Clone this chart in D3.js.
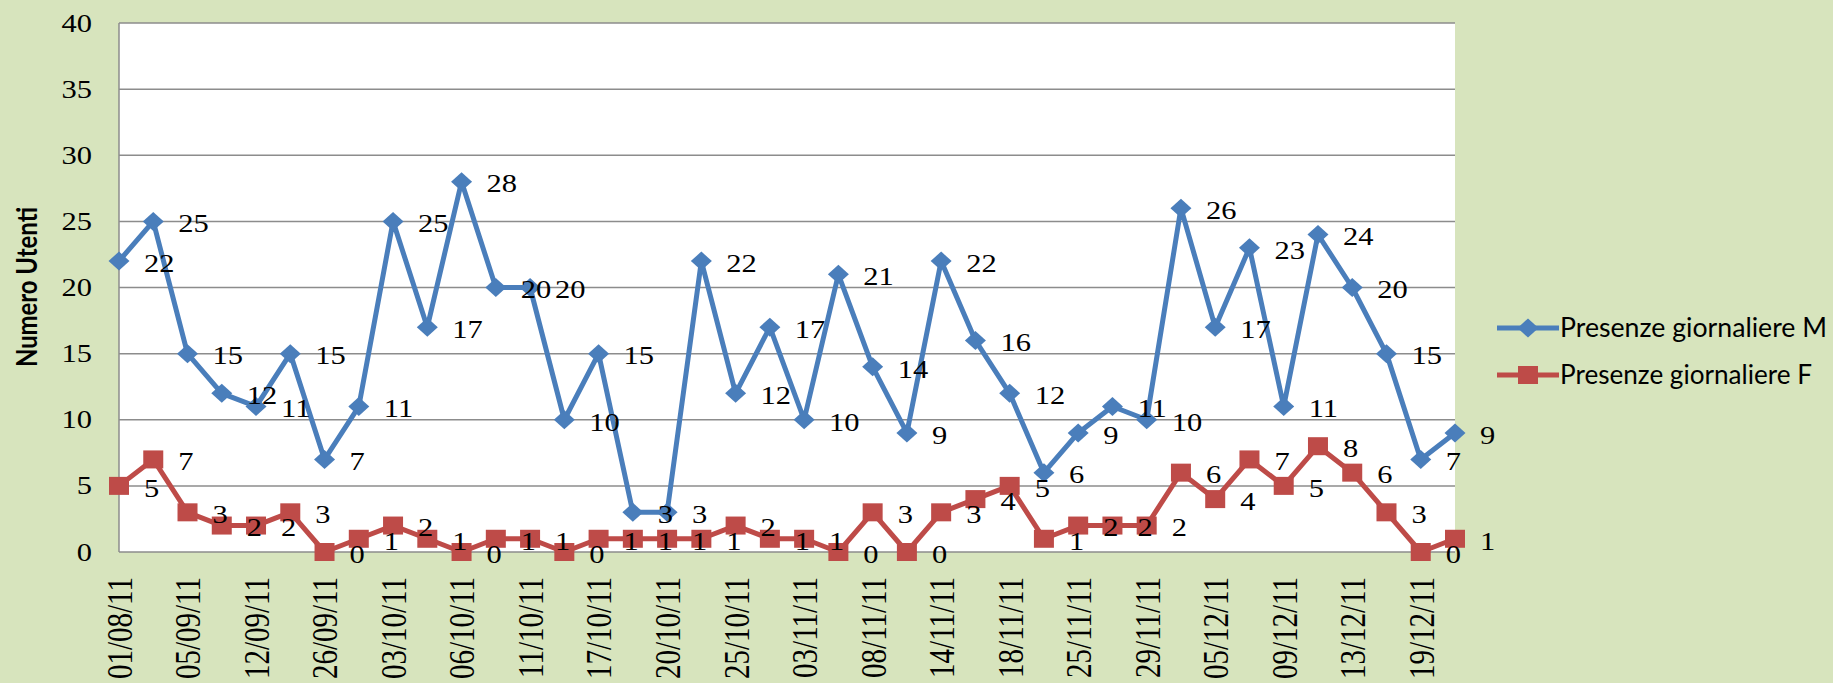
<!DOCTYPE html>
<html>
<head>
<meta charset="utf-8">
<script src="https://cdn.jsdelivr.net/npm/d3@7"></script>
<style>
  body { margin: 0; background: #d7e4bd; }
  svg { display: block; }
</style>
</head>
<body>
<div id="chart"></div>
<script>
// one entry per day in the register
var dates = ["01/08/11","","05/09/11","","12/09/11","","26/09/11","","03/10/11","",
  "06/10/11","","11/10/11","","17/10/11","","20/10/11","","25/10/11","",
  "03/11/11","","08/11/11","","14/11/11","","18/11/11","","25/11/11","",
  "29/11/11","","05/12/11","","09/12/11","","13/12/11","","19/12/11",""];

var maschi = [22,25,15,12,11,15,7,11,25,17,28,20,20,10,15,3,3,22,12,17,
  10,21,14,9,22,16,12,6,9,11,10,26,17,23,11,24,20,15,7,9];
var femmine = [5,7,3,2,2,3,0,1,2,1,0,1,1,0,1,1,1,1,2,1,
  1,0,3,0,3,4,5,1,2,2,2,6,4,7,5,8,6,3,0,1];

var yTicks = [0,5,10,15,20,25,30,35,40];
var seriesNames = ["Presenze giornaliere M","Presenze giornaliere F"];

var width = 1833, height = 683;
var margin = {top: 23, right: 378, bottom: 131, left: 119};
var stretch = 1.22; // the original picture is a bit wider than tall

var svg = d3.select("#chart").append("svg")
  .attr("width", width)
  .attr("height", height);

svg.append("rect").attr("width", width).attr("height", height).attr("fill", "#d7e4bd");

var idx = d3.range(maschi.length);
var x = d3.scalePoint()
  .domain(idx)
  .range([margin.left, width - margin.right])
  .padding(0);

var y = d3.scaleLinear()
  .domain([0, 40])
  .range([height - margin.bottom, margin.top]);

// stretch horizontal text a little, like in the source image
function widen(sel) {
  sel.each(function(){
    var w = this.getComputedTextLength();
    d3.select(this).attr("textLength", w * stretch).attr("lengthAdjust", "spacingAndGlyphs");
  });
}

// plot area
svg.append("rect")
  .attr("x", margin.left)
  .attr("y", margin.top)
  .attr("width", width - margin.right - margin.left)
  .attr("height", height - margin.bottom - margin.top)
  .attr("fill", "#fff");

// gridlines
svg.append("g").selectAll("line")
  .data(yTicks)
  .enter().append("line")
  .attr("x1", margin.left)
  .attr("x2", width - margin.right)
  .attr("y1", function(d){ return y(d) })
  .attr("y2", function(d){ return y(d) })
  .attr("stroke", "#8c8c8c")
  .attr("stroke-width", 1.5);

// left axis line
svg.append("line")
  .attr("x1", margin.left).attr("x2", margin.left)
  .attr("y1", margin.top).attr("y2", height - margin.bottom)
  .attr("stroke", "#8c8c8c").attr("stroke-width", 1.5);

// y tick labels
var yAxis = svg.append("g")
  .attr("transform", "translate(" + margin.left + ",0)")
  .call(d3.axisLeft(y).tickValues(yTicks).tickSize(0).tickPadding(27));
yAxis.select(".domain").remove();
yAxis.selectAll("text")
  .attr("font-family", "Liberation Serif, serif")
  .attr("font-size", 25)
  .attr("fill", "#000")
  .call(widen);

// x tick labels (rotated)
var xAxis = svg.append("g")
  .attr("transform", "translate(0," + (height - margin.bottom) + ")")
  .call(d3.axisBottom(x).tickSize(0).tickFormat(function(i){ return dates[i] }));
xAxis.select(".domain").remove();
xAxis.selectAll("text")
  .attr("font-family", "Liberation Serif, serif")
  .attr("font-size", 29)
  .attr("fill", "#000")
  .attr("text-anchor", "end")
  .attr("transform", "rotate(-90) scale(1," + stretch + ")")
  .attr("x", -25)
  .attr("y", 0)
  .attr("dy", "0.35em");

// y axis title
svg.append("text")
  .attr("transform", "translate(27,287) rotate(-90) scale(1," + stretch + ")")
  .attr("text-anchor", "middle")
  .attr("dy", "0.35em")
  .attr("font-family", "Lato, sans-serif")
  .attr("font-weight", "bold")
  .attr("font-size", 23)
  .attr("textLength", 160)
  .attr("lengthAdjust", "spacingAndGlyphs")
  .text("Numero Utenti");

var colors = ["#4a7ebb", "#be4b48"];
var data = [maschi, femmine];

var line = d3.line()
  .x(function(d, i){ return x(i) })
  .y(function(d){ return y(d) });

function drawMarker(sel, k) {
  if (k === 0) {
    sel.append("path").attr("d", "M0,-9.5L10.5,0L0,9.5L-10.5,0Z").attr("fill", colors[0]);
  } else {
    sel.append("rect").attr("x", -10).attr("y", -9).attr("width", 20).attr("height", 18).attr("fill", colors[1]);
  }
}

data.forEach(function(vals, k){
  svg.append("path")
    .datum(vals)
    .attr("fill", "none")
    .attr("stroke", colors[k])
    .attr("stroke-width", 5)
    .attr("stroke-linejoin", "round")
    .attr("d", line);

  svg.append("g").selectAll("g")
    .data(vals)
    .enter().append("g")
    .attr("transform", function(d, i){ return "translate(" + x(i) + "," + y(d) + ")" })
    .each(function(){ drawMarker(d3.select(this), k) });
});

// data labels
data.forEach(function(vals){
  svg.append("g").selectAll("text")
    .data(vals)
    .enter().append("text")
    .attr("x", function(d, i){ return x(i) + 25 })
    .attr("y", function(d){ return y(d) + 2 })
    .attr("dy", "0.35em")
    .attr("font-family", "Liberation Serif, serif")
    .attr("font-size", 25)
    .attr("fill", "#000")
    .text(function(d){ return d })
    .call(widen);
});

// legend
var legend = svg.append("g").selectAll("g")
  .data(seriesNames)
  .enter().append("g")
  .attr("transform", function(d, i){ return "translate(1497," + (328 + i * 47) + ")" });

legend.append("line")
  .attr("x1", 0).attr("x2", 62)
  .attr("stroke", function(d, i){ return colors[i] })
  .attr("stroke-width", 5);

legend.each(function(d, i){
  var m = d3.select(this).append("g").attr("transform", "translate(31,0)");
  drawMarker(m, i);
});

legend.append("text")
  .attr("x", 63)
  .attr("dy", "0.35em")
  .attr("font-family", "Lato, sans-serif")
  .attr("font-size", 26)
  .attr("textLength", function(d, i){ return i === 0 ? 267 : 252 })
  .attr("lengthAdjust", "spacingAndGlyphs")
  .text(function(d){ return d });
</script>
</body>
</html>
